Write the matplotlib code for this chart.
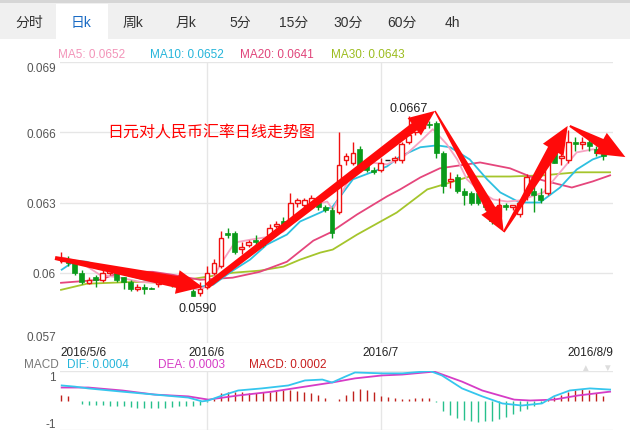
import matplotlib
matplotlib.use('Agg')
import numpy as np
import matplotlib.pyplot as plt
from matplotlib.patches import Rectangle, Polygon
from matplotlib.transforms import IdentityTransform

plt.rcParams['font.family'] = ['Liberation Sans', 'Noto Sans CJK SC', 'DejaVu Sans']

# daily candles 2016/5/6 - 2016/8/9 (JPY/CNY)
opens = [0.0605, 0.0606, 0.0604, 0.0600, 0.05955, 0.0598, 0.0597, 0.0600, 0.0601, 0.0598,
         0.0596, 0.0593, 0.0594, 0.05935, 0.0595, 0.0597, 0.0596, 0.05945, 0.0596, 0.0592,
         0.05915, 0.0594, 0.0600, 0.0603, 0.0617, 0.0617, 0.0610, 0.0612, 0.0614, 0.0614,
         0.0616, 0.0620, 0.0622, 0.0622, 0.0630, 0.0629, 0.0630, 0.0630, 0.0628, 0.0627,
         0.0626, 0.0648, 0.0647, 0.0653, 0.0646, 0.0644, 0.0644, 0.0648, 0.0648, 0.0648,
         0.0656, 0.0660, 0.0662, 0.06635, 0.0664, 0.0651, 0.0639, 0.0641, 0.0635, 0.0634,
         0.0634, 0.0631, 0.0627, 0.0624, 0.0629, 0.0628, 0.0625, 0.0633, 0.0635, 0.0633,
         0.0634, 0.0651, 0.0649, 0.0648, 0.0656, 0.0655, 0.0656, 0.0653, 0.0652]
highs = [0.0609, 0.0607, 0.0605, 0.0601, 0.0598, 0.0599, 0.0601, 0.0602, 0.0602, 0.0598,
         0.0597, 0.0595, 0.0595, 0.0594, 0.0598, 0.0598, 0.0597, 0.0597, 0.0597, 0.0593,
         0.0596, 0.0603, 0.0606, 0.0618, 0.0619, 0.0618, 0.0613, 0.0614, 0.0616, 0.0615,
         0.0621, 0.0622, 0.0624, 0.0634, 0.0632, 0.0632, 0.0633, 0.0631, 0.0629, 0.0628,
         0.0660, 0.0651, 0.0656, 0.0654, 0.0647, 0.0645, 0.0649, 0.0648, 0.0650, 0.0656,
         0.0667, 0.0663, 0.0664, 0.0665, 0.0665, 0.0652, 0.0643, 0.0642, 0.0636, 0.0635,
         0.0635, 0.0632, 0.0628, 0.0632, 0.0630, 0.0629, 0.0631, 0.0642, 0.0637, 0.0636,
         0.0652, 0.0652, 0.0653, 0.0661, 0.0658, 0.0658, 0.0657, 0.0654, 0.0652]
lows = [0.0604, 0.0603, 0.0599, 0.0595, 0.0595, 0.0594, 0.0596, 0.0599, 0.0596, 0.0593,
        0.0592, 0.0592, 0.0591, 0.0593, 0.0594, 0.0595, 0.0594, 0.0594, 0.0593, 0.0590,
        0.0590, 0.0593, 0.0599, 0.0602, 0.0615, 0.0608, 0.0608, 0.0611, 0.0612, 0.0611,
        0.0615, 0.0619, 0.0619, 0.0621, 0.0628, 0.0628, 0.0629, 0.0627, 0.0626, 0.0615,
        0.0625, 0.0646, 0.0646, 0.0643, 0.0643, 0.0642, 0.0643, 0.0648, 0.0647, 0.0647,
        0.0655, 0.0659, 0.0661, 0.0662, 0.0649, 0.0634, 0.0636, 0.0634, 0.0629, 0.0629,
        0.0629, 0.0627, 0.0621, 0.0623, 0.0627, 0.0627, 0.0624, 0.0631, 0.0626, 0.0630,
        0.0633, 0.0647, 0.0646, 0.0647, 0.0652, 0.0653, 0.0652, 0.0650, 0.0648]
closes = [0.0606, 0.0604, 0.0600, 0.0596, 0.0597, 0.0597, 0.0600, 0.0601, 0.0597, 0.0596,
          0.0593, 0.0594, 0.0593, 0.0593, 0.0597, 0.0596, 0.0595, 0.0596, 0.0594, 0.0590,
          0.0593, 0.0600, 0.0604, 0.0615, 0.0616, 0.0609, 0.0611, 0.0613, 0.0613, 0.0612,
          0.0619, 0.0621, 0.0621, 0.0630, 0.0631, 0.0631, 0.0632, 0.0628, 0.0627, 0.0617,
          0.0646, 0.0650, 0.0651, 0.0644, 0.0644, 0.0643, 0.0647, 0.0648, 0.0649, 0.0655,
          0.0659, 0.0662, 0.0663, 0.0663, 0.0651, 0.0637, 0.0640, 0.0635, 0.0633, 0.0630,
          0.0630, 0.0628, 0.0622, 0.0629, 0.0628, 0.0629, 0.0630, 0.0641, 0.0633, 0.0631,
          0.0649, 0.0647, 0.0650, 0.0656, 0.0655, 0.0656, 0.0654, 0.0651, 0.0650]

# moving averages (candle index, value)
ma5_x = [0.3, 2.7, 5.6, 8.5, 11.4, 14.2, 17.1, 20, 21.4, 22.9, 25, 27.2, 30, 32, 34.4, 36.5, 38.3,
         39.1, 42, 44.5, 46.9, 49.2, 51.7, 53.5, 55.5, 57, 58.4, 60.3, 62.2, 64.2, 66, 69.4,
         71.8, 74.2, 76.5, 78.6]
ma5_v = [0.06064, 0.06047, 0.05991, 0.05979, 0.05961, 0.05957, 0.05944, 0.05927, 0.0595,
         0.06034, 0.06129, 0.06141, 0.06154, 0.06176, 0.0624, 0.06291, 0.06304, 0.0627,
         0.06429, 0.06471, 0.06463, 0.06493, 0.06561, 0.06613, 0.06549, 0.06484, 0.06399,
         0.06347, 0.06313, 0.06304, 0.06309, 0.06343, 0.06429, 0.06514, 0.06527, 0.06519]
ma10_x = [0.1, 2, 3.7, 7, 10.4, 13.2, 17.1, 20, 21.9, 24.7, 27.2, 29.6, 32.5, 34.4, 37.3, 39.1,
          42, 46.9, 48.8, 51.7, 54.1, 56, 58.8, 61.3, 63.2, 66, 68.9, 71.8, 74.2, 76.5, 78.6]
ma10_v = [0.06013, 0.06051, 0.06047, 0.06013, 0.05983, 0.05961, 0.05949, 0.0594, 0.05949,
          0.06009, 0.06056, 0.0612, 0.06163, 0.06219, 0.06257, 0.06283, 0.06399, 0.06454,
          0.06497, 0.06536, 0.06544, 0.06536, 0.06484, 0.06399, 0.06343, 0.063, 0.063,
          0.06364, 0.06441, 0.06484, 0.06506]
ma20_x = [0, 5.6, 8.8, 13.2, 16.1, 20, 24.7, 28.6, 32.5, 36.3, 38.7, 42.6, 46.9, 48.8, 51.7,
          54.5, 60.3, 64.6, 67.5, 69.4, 73.5, 76.5, 79]
ma20_v = [0.05957, 0.0597, 0.06004, 0.06004, 0.05991, 0.0597, 0.05979, 0.06004, 0.06047,
          0.06137, 0.06171, 0.06249, 0.06326, 0.06356, 0.06407, 0.06446, 0.06471, 0.06446,
          0.06411, 0.06394, 0.06364, 0.0639, 0.06416]
ma30_x = [0, 3.7, 10.4, 15.3, 19, 21.9, 24.7, 28.6, 32, 34.4, 37.3, 39.1, 42.6, 48.3, 52.7,
          55.5, 58.8, 64.6, 69.4, 74.2, 79]
ma30_v = [0.05927, 0.05953, 0.05961, 0.05957, 0.05974, 0.05987, 0.06, 0.06009, 0.06026,
          0.06056, 0.06086, 0.06099, 0.06163, 0.06257, 0.06356, 0.06381, 0.06411, 0.06411,
          0.06416, 0.06429, 0.06429]

# MACD panel (x1e-3)
dif_x = [0.1, 2, 3.9, 8.8, 13.5, 18.3, 20.3, 21.2, 23.2, 25.5, 28.9, 32.7, 35.1, 37.6, 39,
         40.9, 42.3, 46.2, 49.1, 53.1, 54.8, 57.7, 60.6, 63.5, 66.3, 69.2, 70.9, 73.2, 76.1, 79]
dif_v = [0.51, 0.47, 0.41, 0.3, 0.2, 0.1, -0.03, 0.0, 0.17, 0.34, 0.41, 0.51, 0.68, 0.71, 0.61,
         0.81, 0.95, 0.92, 0.92, 1.0, 0.85, 0.41, 0.14, -0.1, -0.17, -0.1, 0.14, 0.34, 0.41, 0.37]
dea_x = [0.1, 3.9, 8.8, 13.5, 18.3, 21.2, 25.5, 30.4, 35.1, 39, 42.3, 46.2, 49.1, 53.7, 57.7,
         60.6, 65.2, 67.5, 70.9, 74.4, 79]
dea_v = [0.44, 0.44, 0.34, 0.2, 0.14, 0.03, 0.17, 0.3, 0.47, 0.61, 0.75, 0.85, 0.88, 0.98, 0.64,
         0.34, 0.03, 0.0, 0.03, 0.17, 0.3]
macd_hist = [0.17, 0.14, -0.02, -0.12, -0.15, -0.15, -0.16, -0.17, -0.18, -0.2,
             -0.22, -0.24, -0.26, -0.27, -0.27, -0.26, -0.22, -0.2, -0.18, -0.17,
             -0.14, -0.05, 0.05, 0.24, 0.3, 0.3, 0.28, 0.27, 0.27, 0.28,
             0.3, 0.32, 0.34, 0.36, 0.33, 0.3, 0.25, 0.2, 0.08, -0.03,
             0.05, 0.2, 0.32, 0.38, 0.35, 0.28, 0.15, 0.12, 0.08, 0.06,
             0.06, 0.1, 0.1, 0.1, -0.05, -0.35, -0.5, -0.6, -0.65, -0.7,
             -0.72, -0.7, -0.68, -0.62, -0.55, -0.45, -0.35, -0.3, -0.2, -0.1,
             0.05, 0.12, 0.2, 0.3, 0.35, 0.4, 0.35, 0.25, 0.15]

tabs = ['分时', '日k', '周k', '月k', '5分', '15分', '30分', '60分', '4h']
tab_px = [29, 81, 133, 186, 240, 294, 348, 402, 452]
yticks = [0.057, 0.06, 0.063, 0.066, 0.069]
ylabels = ['0.057', '0.06', '0.063', '0.066', '0.069']
month_idx = [21, 46]
xlabels = ['2016/5/6', '2016/6', '2016/7', '2016/8/9']

# hand drawn trend arrows: (start idx, start price, end idx, end price)
arrows = [(-0.86, 0.06063, 20.4, 0.05939),
          (21.0, 0.05943, 53.8, 0.06691),
          (53.8, 0.06691, 63.7, 0.06174),
          (63.7, 0.06174, 72.9, 0.06627),
          (73.2, 0.06627, 81.2, 0.06494)]
arrow_w = [(4, 12, 24, 26), (6, 9, 22, 26), (1.5, 10, 22, 26), (2, 12, 24, 28), (2, 10, 24, 28)]

W, H = 630, 435
fig = plt.figure(figsize=(6.3, 4.35), dpi=100)
fig.patch.set_facecolor('white')


def fx(px):
    return px / W


def fy(py):
    return 1 - py / H


# tab bar on top
fig.add_artist(Rectangle((0, fy(40)), 1, fy(0) - fy(40), transform=fig.transFigure,
                         fc='#f0f0f0', ec='none'))
fig.add_artist(Rectangle((0, fy(4)), 1, fy(0) - fy(4), transform=fig.transFigure,
                         fc='#d6d6d6', ec='none'))
fig.add_artist(Rectangle((fx(56), fy(40)), fx(108) - fx(56), fy(5) - fy(40),
                         transform=fig.transFigure, fc='white', ec='none'))
for t, px in zip(tabs, tab_px):
    fig.text(fx(px), fy(23), t, ha='center', va='center', fontsize=10,
             color='#1a6bc4' if t == '日k' else '#333333')

RED = '#f01010'
GREEN = '#0a9a1a'
n = len(closes)
xl = (-0.144, 79.42)

ax = fig.add_axes([fx(60), fy(344), fx(613) - fx(60), fy(63) - fy(344)])
ax.set_xlim(*xl)
ax.set_ylim(0.057, 0.069)
for s in ax.spines.values():
    s.set_visible(False)
for y in yticks:
    ax.axhline(y, color='#e6e6e6', lw=1, zorder=0)
for x in month_idx:
    ax.axvline(x, color='#e6e6e6', lw=1, zorder=0)
ax.set_yticks(yticks)
ax.set_yticklabels(ylabels, fontsize=8.5, color='#555555')
labs = ax.get_yticklabels()
labs[0].set_va('bottom')
labs[-1].set_va('top')
ax.set_xticks([xl[0]] + month_idx + [xl[1]])
ax.set_xticklabels(xlabels, fontsize=8.5, color='#222222')
xlabs = ax.get_xticklabels()
xlabs[0].set_ha('left')
xlabs[-1].set_ha('right')
ax.tick_params(length=0, pad=3)
ax.tick_params(axis='x', pad=2)

# candles
for i in range(n):
    o, h, l, c = opens[i], highs[i], lows[i], closes[i]
    if c > o:
        ax.vlines(i, l, h, color=RED, lw=1, zorder=3)
        ax.add_patch(Rectangle((i - 0.33, o), 0.66, c - o, fc='white', ec=RED, lw=1, zorder=4))
    elif c < o:
        ax.vlines(i, l, h, color=GREEN, lw=1, zorder=3)
        ax.add_patch(Rectangle((i - 0.35, c), 0.7, o - c, fc=GREEN, ec=GREEN, lw=0.5, zorder=4))
    else:
        ax.vlines(i, l, h, color='#222222', lw=1, zorder=3)
        ax.hlines(c, i - 0.35, i + 0.35, color='#222222', lw=1, zorder=4)

ax.plot(ma30_x, ma30_v, color='#a5c52c', lw=1.3, zorder=2)
ax.plot(ma20_x, ma20_v, color='#e5467c', lw=1.3, zorder=2)
ax.plot(ma10_x, ma10_v, color='#2ec0e0', lw=1.3, zorder=2)
ax.plot(ma5_x, ma5_v, color='#f7a3c2', lw=1.3, zorder=2)

hi = int(np.argmax(highs))
lo = int(np.argmin(lows))
ax.annotate('0.0667', xy=(hi, highs[hi]), xytext=(0, 1), textcoords='offset points',
            ha='center', va='bottom', fontsize=9, color='#222222', zorder=6)
ax.annotate('0.0590', xy=(lo, lows[lo]), xytext=(3, -4), textcoords='offset points',
            ha='center', va='top', fontsize=9, color='#222222', zorder=6)

# MA legend
fig.text(fx(58), fy(55), 'MA5: 0.0652', fontsize=8.5, color='#f394b9', va='center')
fig.text(fx(150), fy(55), 'MA10: 0.0652', fontsize=8.5, color='#25b5da', va='center')
fig.text(fx(240), fy(55), 'MA20: 0.0641', fontsize=8.5, color='#e0447a', va='center')
fig.text(fx(331), fy(55), 'MA30: 0.0643', fontsize=8.5, color='#9cbc1e', va='center')

fig.text(fx(107), fy(133), '日元对人民币汇率日线走势图', fontsize=11.5, color='#ff0000',
         va='center', ha='left')

# MACD panel
mx = fig.add_axes([fx(60), fy(431), fx(613) - fx(60), fy(372) - fy(431)])
mx.set_xlim(*xl)
mx.set_ylim(-1, 1)
for s in mx.spines.values():
    s.set_visible(False)
for y in [-1, 1]:
    mx.axhline(y, color='#e6e6e6', lw=1, zorder=0)
for x in month_idx:
    mx.axvline(x, color='#e6e6e6', lw=1, zorder=0)
mx.set_xticks([])
mx.set_yticks([-1, 1])
mx.set_yticklabels(['-1', '1'], fontsize=8.5, color='#555555')
ml = mx.get_yticklabels()
ml[0].set_va('bottom')
ml[1].set_va('top')
mx.tick_params(length=0, pad=3)
for i, v in enumerate(macd_hist):
    mx.vlines(i, 0, v, color='#c0201c' if v > 0 else '#27c08c', lw=1, zorder=2)
mx.plot(dea_x, dea_v, color='#d63cc6', lw=1.3, zorder=3)
mx.plot(dif_x, dif_v, color='#35c6ee', lw=1.3, zorder=3)

fig.text(fx(24), fy(365), 'MACD', fontsize=8.5, color='#777777', va='center')
fig.text(fx(67), fy(365), 'DIF: 0.0004', fontsize=8.5, color='#25b5da', va='center')
fig.text(fx(158), fy(365), 'DEA: 0.0003', fontsize=8.5, color='#d63cc6', va='center')
fig.text(fx(249), fy(365), 'MACD: 0.0002', fontsize=8.5, color='#c81d1d', va='center')
fig.text(fx(585), fy(368), '▲', fontsize=7, color='#dddddd', ha='center', va='center')
fig.text(fx(607), fy(368), '▼', fontsize=7, color='#dddddd', ha='center', va='center')

# red arrows, built in pixel space
for (x0, y0, x1, y1), (w0, w1, hw, hl) in zip(arrows, arrow_w):
    s = ax.transData.transform((x0, y0))
    t = ax.transData.transform((x1, y1))
    d = t - s
    u = d / np.hypot(*d)
    nrm = np.array([-u[1], u[0]])
    b = t - u * hl
    pts = [s + nrm * w0 / 2, b + nrm * w1 / 2, b + nrm * hw / 2, t,
           b - nrm * hw / 2, b - nrm * w1 / 2, s - nrm * w0 / 2]
    fig.add_artist(Polygon(pts, closed=True, transform=IdentityTransform(),
                           fc='#ff0a0a', ec='none', zorder=5))

fig.savefig('out.png', dpi=100)
